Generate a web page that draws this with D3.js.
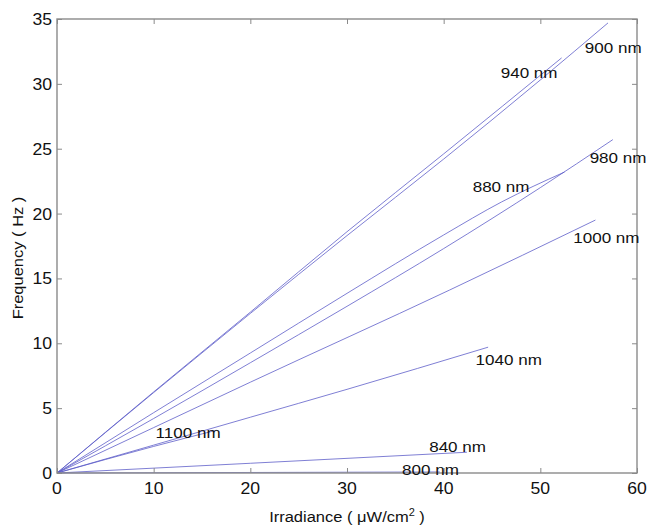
<!DOCTYPE html>
<html><head><meta charset="utf-8">
<script src="https://cdn.jsdelivr.net/npm/d3@7"></script>
<style>
html,body{margin:0;padding:0;background:#fff;}
svg{display:block;font-family:"Liberation Sans",Arial,Helvetica,sans-serif;}
</style></head>
<body>
<script>
// ---- data ----
const xTicks = [0,10,20,30,40,50,60];
const yTicks = [0,5,10,15,20,25,30,35];
const seriesNames = ["900 nm","940 nm","880 nm","980 nm","1000 nm","1040 nm","1100 nm","840 nm","800 nm"];
const x900  = [0,10,20,30,40,50,57];        const y900  = [0,6.2,12.3,18.3,24.2,30.3,34.7];
const x940  = [0,10,20,30,40,52.2];         const y940  = [0,6.25,12.4,18.6,24.6,32.0];
const x880  = [0,10,20,30,40,46,52.5];      const y880  = [0,4.65,9.25,13.85,18.35,20.9,23.2];
const x980  = [0,10,20,30,40,50,57.5];      const y980  = [0,4.2,8.5,12.85,17.3,22.0,25.7];
const x1000 = [0,10,20,40.6,55.7];          const y1000 = [0,3.5,7.0,14.1,19.5];
const x1040 = [0,10,20,30,44.6];            const y1040 = [0,2.15,4.3,6.45,9.7];
const x1100 = [0,10,16.5];                  const y1100 = [0,2.05,3.3];
const x840  = [0,20,42.4];                  const y840  = [0,0.75,1.6];
const x800  = [0,20,39.6];                  const y800  = [0,0.04,0.08];
// label anchor points in data units (text start, baseline)
const labelX = [54.6,45.9,43.0,55.1,53.4,43.3,10.2,38.5,35.7];
const labelY = [32.4,30.45,21.7,23.9,17.7,8.3,2.7,1.6,-0.15];

const seriesX = [x900,x940,x880,x980,x1000,x1040,x1100,x840,x800];
const seriesY = [y900,y940,y880,y980,y1000,y1040,y1100,y840,y800];

// ---- layout ----
const W=654,H=529;
const L=57,R=637,T=19,B=473;
const svg=d3.select("body").append("svg").attr("width",W).attr("height",H);
svg.append("rect").attr("width",W).attr("height",H).attr("fill","#fff");

const x=d3.scaleLinear().domain([0,60]).range([L,R]);
const y=d3.scaleLinear().domain([0,35]).range([B,T]);

const axisColor="#8a8a8a";
const tickLen=5;
const sx=1.1;

// lines
const line=d3.line().x(d=>x(d[0])).y(d=>y(d[1])).curve(d3.curveMonotoneX);
seriesX.forEach((xs,i)=>{
  const pts=xs.map((v,j)=>[v,seriesY[i][j]]);
  svg.append("path").attr("d",line(pts)).attr("fill","none")
    .attr("stroke","#5b5bc8").attr("stroke-opacity",0.78).attr("stroke-width",1);
});

// axes (inside ticks, box)
const gB=svg.append("g").attr("transform",`translate(0,${B})`)
  .call(d3.axisBottom(x).tickValues(xTicks).tickSize(-tickLen).tickFormat(""));
const gT=svg.append("g").attr("transform",`translate(0,${T})`)
  .call(d3.axisTop(x).tickValues(xTicks).tickSize(-tickLen).tickFormat(""));
const gL=svg.append("g").attr("transform",`translate(${L},0)`)
  .call(d3.axisLeft(y).tickValues(yTicks).tickSize(-tickLen).tickFormat(""));
const gR=svg.append("g").attr("transform",`translate(${R},0)`)
  .call(d3.axisRight(y).tickValues(yTicks).tickSize(-tickLen).tickFormat(""));
[gB,gT,gL,gR].forEach(g=>{
  g.select(".domain").remove();
  g.selectAll("line").attr("stroke",axisColor).attr("stroke-width",1);
});
svg.append("rect").attr("x",L).attr("y",T).attr("width",R-L).attr("height",B-T)
  .attr("fill","none").attr("stroke",axisColor).attr("stroke-width",1.4);

function txt(px,py,s,anchor,size){
  return svg.append("text").attr("transform",`translate(${px},${py}) scale(${sx},1)`)
    .attr("text-anchor",anchor).attr("font-size",size).attr("fill","#111").text(s);
}
// tick labels
xTicks.forEach(v=>txt(x(v),B+21,String(v),"middle",16));
yTicks.forEach(v=>txt(L-5,y(v)+6,String(v),"end",16));

// axis titles
const xt=svg.append("text").attr("transform",`translate(${(L+R)/2},${H-7}) scale(${sx},1)`)
  .attr("text-anchor","middle").attr("font-size",15).attr("fill","#111");
xt.append("tspan").text("Irradiance ( \u03bcW/cm");
xt.append("tspan").attr("font-size",10).attr("dy",-6).text("2");
xt.append("tspan").attr("dy",6).text(" )");
svg.append("text").attr("transform",`translate(23,258) rotate(-90) scale(${sx},1)`)
  .attr("text-anchor","middle").attr("font-size",15).attr("fill","#111").text("Frequency ( Hz )");

// series labels
seriesNames.forEach((n,i)=>txt(x(labelX[i]),y(labelY[i]),n,"start",15.5));
</script>
</body></html>
